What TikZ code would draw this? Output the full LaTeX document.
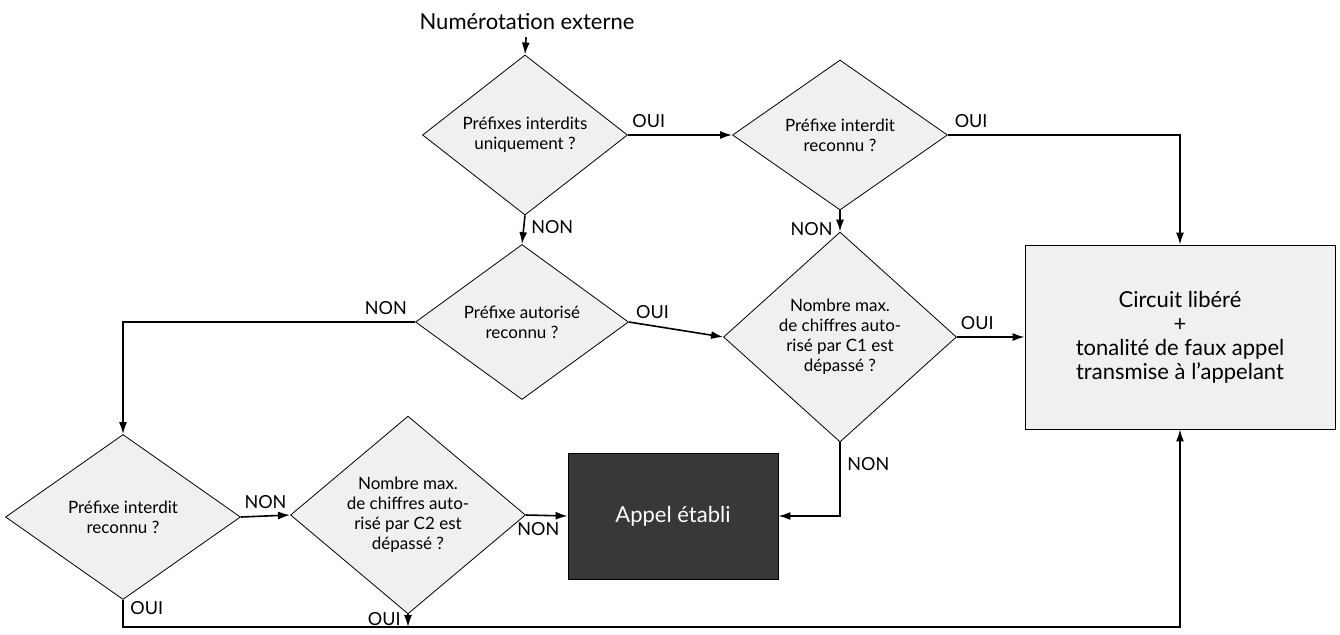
\documentclass[tikz,border=0pt]{standalone}
\usepackage{fontspec}
\setmainfont{Lato}
\usetikzlibrary{shapes.geometric,arrows.meta}
\tikzset{
  choix/.style={diamond, draw, fill=gray!12, inner sep=0pt, align=center, font=\fontsize{8.5}{10}\selectfont},
  fleche/.style={-{Latex[length=6pt,width=4pt]}, thick},
  lbl/.style={font=\fontsize{9}{10}\selectfont}
}
\begin{document}
\begin{tikzpicture}[x=0.5pt, y=-0.5pt]
		\useasboundingbox (0,0) rectangle (1340,634);
		\node (ext) at (527, 22) {\fontsize{11}{12}\selectfont Numérotation externe};
		\node[choix, minimum width=205pt*0.5, minimum height=140pt*0.5] (uniq) at (525, 135) {Préfixes interdits\\uniquement ?};
		\node[choix, minimum width=215pt*0.5, minimum height=150pt*0.5] (int1) at (840, 135) {Préfixe interdit\\reconnu ?};
		\node[choix, minimum width=213pt*0.5, minimum height=155pt*0.5] (aut) at (522, 322) {Préfixe autorisé\\reconnu ?};
		\node[choix, minimum width=233pt*0.5, minimum height=210pt*0.5] (max1) at (840, 337) {Nombre max.\\de chiffres auto-\\risé par C1 est\\dépassé ?};
		\node[choix, minimum width=235pt*0.5, minimum height=165pt*0.5] (int2) at (123, 517) {Préfixe interdit\\reconnu ?};
		\node[choix, minimum width=235pt*0.5, minimum height=170pt*0.5] (max2) at (408, 515) {Nombre max.\\de chiffres auto-\\risé par C2 est\\dépassé ?};
		\node[draw, fill=gray!12, minimum width=155pt, minimum height=92pt, align=center, font=\fontsize{11}{12}\selectfont] (libre) at (1180, 337) {Circuit libéré\\+\\tonalité de faux appel\\transmise à l’appelant};
		\node[draw, fill=black!78, text=white, minimum width=105pt, minimum height=63pt, font=\fontsize{11}{12}\selectfont] (etabli) at (673, 516) {Appel établi};
		\coordinate (bas) at (408, 627);

		\path (ext) edge[fleche] (uniq.north);
		\path (uniq.east) edge[fleche] node[lbl, above, pos=0.2] {OUI} (int1.west);
		\draw[fleche] (int1.east) -- node[lbl, above, pos=0.1] {OUI} (int1.east -| libre.north) -- (libre.north);
		\path (uniq.south) edge[fleche] node[lbl, right, pos=0.4] {NON} (aut.north);
		\path (int1.south) edge[fleche] node[lbl, left, pos=0.9] {NON} (max1.north);
		\path (aut.east) edge[fleche] node[lbl, above, pos=0.25] {OUI} (max1.west);
		\path (max1.east) edge[fleche] node[lbl, above, pos=0.3] {OUI} (libre.west);
		\draw[fleche] (aut.west) -- node[lbl, above, pos=0.1] {NON} (aut.west -| int2.north) -- (int2.north);
		\path (int2.east) edge[fleche] node[lbl, above] {NON} (max2.west);
		\path (max2.east) edge[fleche] node[lbl, below, pos=0.3] {NON} (etabli.west);
		\draw[fleche] (max1.south) -- node[lbl, right, pos=0.3] {NON} (max1.south |- etabli.east) -- (etabli.east);
		\draw[fleche] (int2.south) -- node[lbl, right, pos=0.3] {OUI} (int2.south |- bas) -- (bas -| libre.south) -- (libre.south);
		\path (max2.south) edge[fleche] node[lbl, left, pos=0.4] {OUI} (bas);
	\end{tikzpicture}
\end{document}
